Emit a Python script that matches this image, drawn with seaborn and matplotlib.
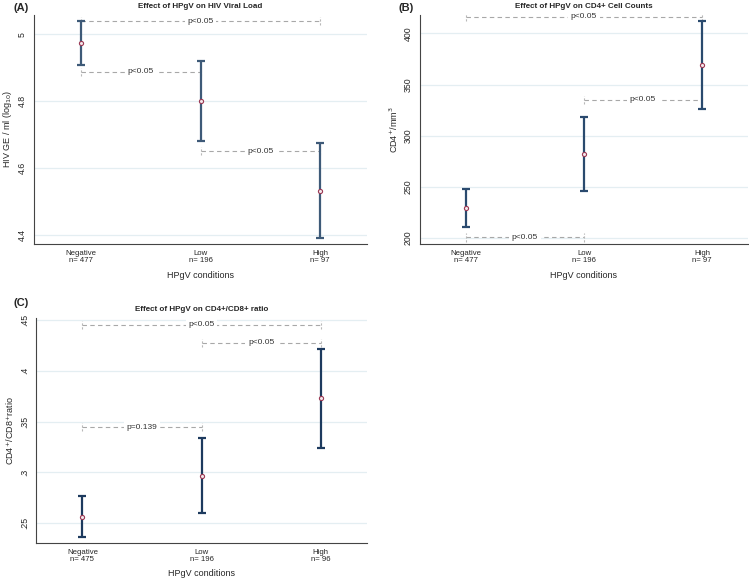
import matplotlib
matplotlib.use('Agg')
import matplotlib.pyplot as plt
import seaborn as sns
import pandas as pd

# categories and group sizes
groups = ['Negative', 'Low', 'High']
n_a = [477, 196, 97]
n_b = [477, 196, 97]
n_c = [475, 196, 96]

# (A) HIV viral load, log10 GE/ml: mean and 95% CI
vl_mean = [4.974, 4.800, 4.532]
vl_low = [4.907, 4.680, 4.391]
vl_high = [5.040, 4.920, 4.676]

# (B) CD4+ cell counts
cd4_mean = [229.3, 282.0, 369.3]
cd4_low = [210.4, 246.2, 326.3]
cd4_high = [247.9, 317.9, 412.2]

# (C) CD4+/CD8+ ratio
ratio_mean = [0.2562, 0.2966, 0.3733]
ratio_low = [0.2359, 0.2601, 0.3241]
ratio_high = [0.2769, 0.3333, 0.4219]

# pairwise comparisons: (from group, to group, bracket level, text)
comp_a = [(0, 2, 5.038, 'p<0.05'), (0, 1, 4.887, 'p<0.05'), (1, 2, 4.650, 'p<0.05')]
comp_b = [(0, 2, 416.5, 'p<0.05'), (1, 2, 335.0, 'p<0.05'), (0, 1, 200.5, 'p<0.05')]
comp_c = [(0, 2, 0.4455, 'p<0.05'), (1, 2, 0.4278, 'p<0.05'), (0, 1, 0.3442, 'p=0.139')]

sns.set_style('white')
plt.rcParams['font.family'] = ['Liberation Sans', 'DejaVu Sans']

W, H = 749, 580
fig = plt.figure(figsize=(W / 100, H / 100), dpi=100)


def box(l, t, r, b):
    return [l / W, 1 - b / H, (r - l) / W, (b - t) / H]


def panel(rect, title, ylabel, mean, lo, hi, ns, comps, ylim, yticks, yticklabels, bar_col):
    ax = fig.add_axes(box(*rect))
    df = pd.DataFrame({'pos': range(len(groups)), 'mean': mean, 'lo': lo, 'hi': hi})
    ax.set_ylim(*ylim)
    ax.set_xlim(-0.39, 2.39)
    span = ylim[1] - ylim[0]
    for y in yticks:
        ax.axhline(y, color='#e4eef2', lw=0.9, zorder=0)
    # comparison brackets
    for i, j, y, txt in comps:
        ax.plot([i, j], [y, y], color='#a8a8a8', lw=0.8, ls=(0, (4, 3)), zorder=1)
        d = span * 0.018
        for x in (i, j):
            ax.plot([x, x], [y - d, y + d], color='#b8b8b8', lw=0.8, ls=(0, (2, 1.5)), zorder=1)
        ax.text((i + j) / 2, y, txt, ha='center', va='center', fontsize=6,
                color='#333333', bbox=dict(fc='white', ec='none', pad=2), zorder=2)
    ax.errorbar(df['pos'], df['mean'],
                yerr=[df['mean'] - df['lo'], df['hi'] - df['mean']],
                fmt='none', ecolor=bar_col, elinewidth=1.6, capsize=3.2, capthick=1.6, zorder=3)
    sns.scatterplot(data=df, x='pos', y='mean', ax=ax, s=9, marker='o',
                    facecolor='#f3e6ea', edgecolor='#9c3a55', linewidth=0.8, zorder=4)
    ax.set_xticks(range(len(groups)))
    ax.set_xticklabels([f'{g}\nn= {n}' for g, n in zip(groups, ns)], fontsize=5.6, linespacing=1.0)
    ax.set_yticks(yticks)
    ax.set_yticklabels(yticklabels, fontsize=6.3, rotation=90, va='center')
    ax.tick_params(axis='y', length=3, width=0.6, pad=2, color='#333333')
    ax.tick_params(axis='x', length=0, pad=4)
    ax.set_xlabel('HPgV conditions', fontsize=6.5, labelpad=5)
    ax.set_ylabel(ylabel, fontsize=6.5, labelpad=3)
    for s in ('top', 'right'):
        ax.spines[s].set_visible(False)
    for s in ('left', 'bottom'):
        ax.spines[s].set_color('#444444')
        ax.spines[s].set_linewidth(0.8)
    ax.set_title(title, fontsize=5.8, fontweight='bold', pad=5)
    return ax


panel((34, 15, 367, 244), 'Effect of HPgV on HIV Viral Load',
      'HIV GE / ml (log$_{10}$)', vl_mean, vl_low, vl_high, n_a, comp_a,
      (4.373, 5.057), [4.4, 4.6, 4.8, 5.0], ['4.4', '4.6', '4.8', '5'], '#3e5a78')
panel((420, 15, 748, 244), 'Effect of HPgV on CD4+ Cell Counts',
      'CD4$^{+}$/mm$^{3}$', cd4_mean, cd4_low, cd4_high, n_b, comp_b,
      (194.1, 418.0), [200, 250, 300, 350, 400], ['200', '250', '300', '350', '400'], '#2a4a6e')
panel((36, 318, 367, 543), 'Effect of HPgV on CD4+/CD8+ ratio',
      'CD4$^{+}$/CD8$^{+}$ratio', ratio_mean, ratio_low, ratio_high, n_c, comp_c,
      (0.2303, 0.452), [0.25, 0.30, 0.35, 0.40, 0.45], ['.25', '.3', '.35', '.4', '.45'], '#1d3a5e')

for lab, x, y in (('(A)', 13, 8), ('(B)', 398, 8), ('(C)', 13, 303)):
    fig.text(x / W, 1 - y / H, lab, fontsize=8, fontweight='bold', va='center', ha='left')

fig.savefig('out.png', dpi=100, facecolor='white')
